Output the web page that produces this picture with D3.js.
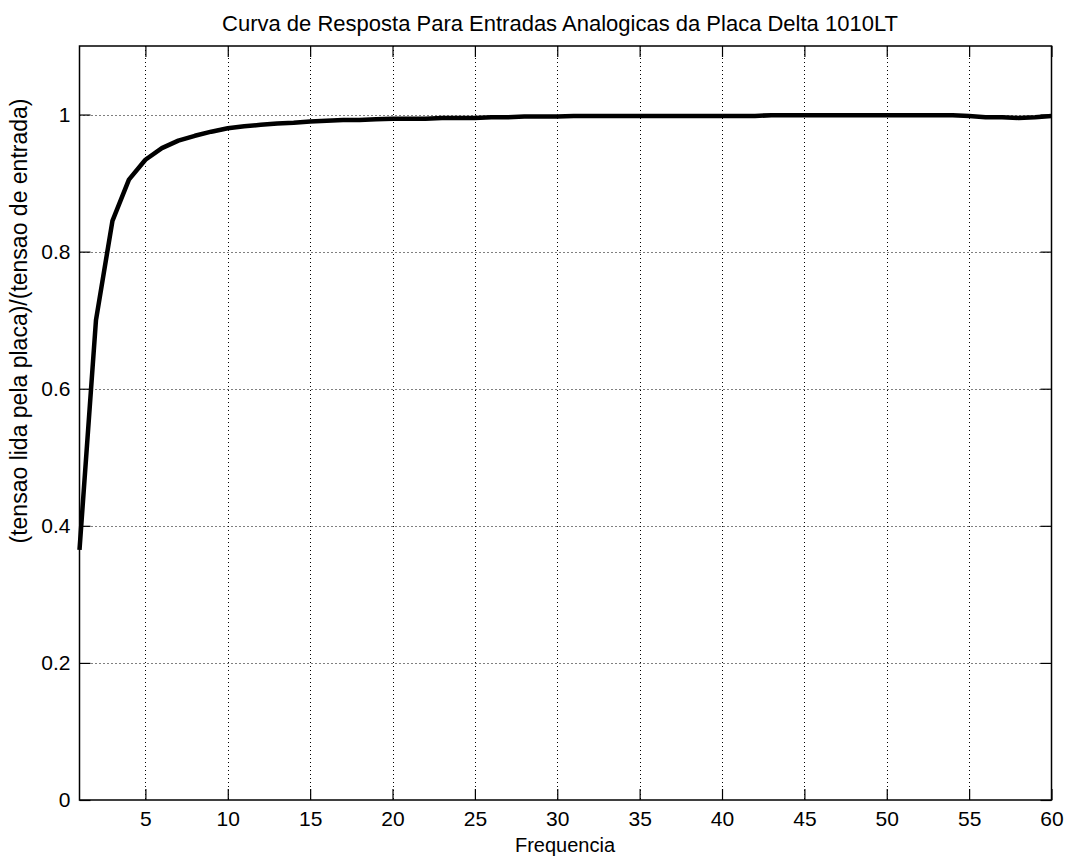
<!DOCTYPE html>
<html>
<head>
<meta charset="utf-8">
<script src="https://cdn.jsdelivr.net/npm/d3@7"></script>
<style>
  body { margin: 0; background: #fff; }
  text { font-family: "Liberation Sans", Arial, sans-serif; fill: #000; }
</style>
</head>
<body>
<svg id="chart" width="1066" height="856"></svg>
<script>
// Data
var freq = d3.range(1, 61);
var ratio = [0.365, 0.700, 0.845, 0.905, 0.934, 0.951, 0.962, 0.969, 0.975, 0.980,
             0.983, 0.985, 0.987, 0.988, 0.990, 0.991, 0.992, 0.992, 0.993, 0.994,
             0.994, 0.994, 0.995, 0.995, 0.995, 0.996, 0.996, 0.997, 0.997, 0.997,
             0.998, 0.998, 0.998, 0.998, 0.998, 0.998, 0.998, 0.998, 0.998, 0.998,
             0.998, 0.998, 0.999, 0.999, 0.999, 0.999, 0.999, 0.999, 0.999, 0.999,
             0.999, 0.999, 0.999, 0.999, 0.998, 0.996, 0.996, 0.995, 0.996, 0.998];
var xTicks = [5, 10, 15, 20, 25, 30, 35, 40, 45, 50, 55, 60];
var yTicks = [0, 0.2, 0.4, 0.6, 0.8, 1];
var titleText = "Curva de Resposta Para Entradas Analogicas da Placa Delta 1010LT";
var xLabel = "Frequencia";
var yLabel = "(tensao lida pela placa)/(tensao de entrada)";

// Layout (plot box edges)
var plotLeft = 79.5, plotRight = 1051.5, plotTop = 46, plotBottom = 800;
var svg = d3.select("#chart");

var x = d3.scaleLinear().domain([1, 60]).range([plotLeft, plotRight]);
var y = d3.scaleLinear().domain([0, 1.1]).range([plotBottom, plotTop]);

// grid
var grid = svg.append("g").attr("stroke", "#000").attr("stroke-width", 1)
              .attr("stroke-dasharray", "1,3");
grid.selectAll(".gx").data(xTicks.filter(function(d) { return d < 60; })).enter()
    .append("line")
    .attr("x1", function(d) { return Math.round(x(d)) + 0.5; })
    .attr("x2", function(d) { return Math.round(x(d)) + 0.5; })
    .attr("y1", plotTop).attr("y2", plotBottom);
grid.selectAll(".gy").data(yTicks.filter(function(d) { return d > 0; })).enter()
    .append("line")
    .attr("y1", function(d) { return Math.round(y(d)) + 0.5; })
    .attr("y2", function(d) { return Math.round(y(d)) + 0.5; })
    .attr("x1", plotLeft).attr("x2", plotRight);

// axes (inward ticks, all four sides)
var fmt = function(d) { return d3.format("")(d); };
svg.append("g").attr("transform", "translate(0," + plotBottom + ")")
   .call(d3.axisBottom(x).tickValues(xTicks).tickSizeInner(-11).tickSizeOuter(0).tickPadding(11))
   .call(function(g) { g.select(".domain").remove(); });
svg.append("g").attr("transform", "translate(0," + plotTop + ")")
   .call(d3.axisTop(x).tickValues(xTicks).tickSizeInner(-11).tickSizeOuter(0).tickFormat(""))
   .call(function(g) { g.select(".domain").remove(); });
svg.append("g").attr("transform", "translate(" + plotLeft + ",0)")
   .call(d3.axisLeft(y).tickValues(yTicks).tickFormat(fmt).tickSizeInner(-11).tickSizeOuter(0).tickPadding(9))
   .call(function(g) { g.select(".domain").remove(); });
svg.append("g").attr("transform", "translate(" + plotRight + ",0)")
   .call(d3.axisRight(y).tickValues(yTicks).tickSizeInner(-11).tickSizeOuter(0).tickFormat(""))
   .call(function(g) { g.select(".domain").remove(); });

svg.selectAll(".tick line").attr("stroke", "#000").attr("stroke-width", 1.2);
svg.selectAll(".tick text").attr("fill", "#000").style("font-size", "21px")
   .style("font-family", "'Liberation Sans', Arial, sans-serif");

// box
svg.append("rect").attr("x", plotLeft).attr("y", plotTop)
   .attr("width", plotRight - plotLeft).attr("height", plotBottom - plotTop)
   .attr("fill", "none").attr("stroke", "#000").attr("stroke-width", 1.5);

// curve
var line = d3.line()
    .x(function(d, i) { return x(freq[i]); })
    .y(function(d) { return y(d); });
svg.append("path").datum(ratio)
   .attr("d", line)
   .attr("fill", "none").attr("stroke", "#000")
   .attr("stroke-width", 4.5).attr("stroke-linejoin", "round");

// labels
svg.append("text").attr("x", 560).attr("y", 31)
   .attr("text-anchor", "middle").style("font-size", "22px").text(titleText);
svg.append("text").attr("x", 565).attr("y", 852)
   .attr("text-anchor", "middle").style("font-size", "20px").text(xLabel);
svg.append("text").attr("transform", "translate(27,321) rotate(-90)")
   .attr("text-anchor", "middle").style("font-size", "23px").text(yLabel);
</script>
</body>
</html>
